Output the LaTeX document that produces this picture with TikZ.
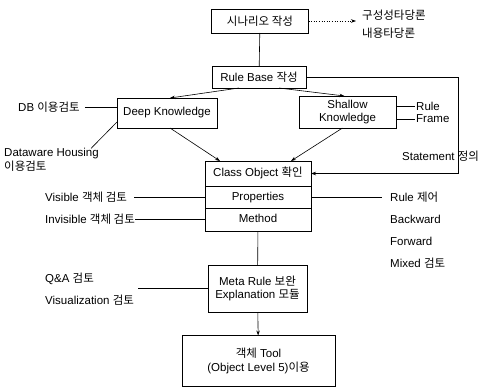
\documentclass[tikz,border=0pt]{standalone}
\usepackage{fontspec}
\setmainfont{Liberation Sans}
\newfontfamily\ko{Noto Sans CJK KR}
\usetikzlibrary{positioning,arrows.meta}

\tikzset{
  box/.style={draw, line width=0.7pt, align=center, inner sep=2pt, outer sep=0pt},
  row/.style={box, minimum width=106pt, text height=8.5pt, text depth=2.5pt},
  lbl/.style={anchor=west, inner sep=0pt},
  link/.style={line width=0.6pt},
  arr/.style={line width=0.6pt, -{Stealth[length=5pt,width=3.5pt]}},
}

\begin{document}
\begin{tikzpicture}[x=1pt, y=-1pt, font=\fontsize{11.5}{13.5}\selectfont]
\useasboundingbox (0,0) rectangle (483,389);
% main chain
\node[box, minimum width=97pt, minimum height=24pt] (scen) at (260,21) {{\ko 시나리오 작성}};
\node[box, minimum width=94pt, minimum height=22pt] (rule) at (259,77) {Rule Base {\ko 작성}};
\node[box, minimum width=100pt, minimum height=30pt] (deep) at (167,113) {Deep Knowledge};
\node[box, minimum width=97pt, minimum height=32pt] (shallow) at (347.5,112) {Shallow\\Knowledge};
\node[row, minimum height=25pt] (cls) at (258,173.5) {Class Object {\ko 확인}};
\node[row, minimum height=22pt, below=0pt of cls] (prop) {Properties};
\node[row, minimum height=23pt, below=0pt of prop] (meth) {Method};
\node[box, minimum width=99pt, minimum height=47pt] (meta) at (257.5,288.5) {Meta Rule {\ko 보완}\\Explanation {\ko 모듈}};
\node[box, minimum width=153pt, minimum height=51pt] (tool) at (258.5,361) {{\ko 객체} Tool\\(Object Level 5){\ko 이용}};

% side notes
\node[lbl] (valid1) at (362,15) {\ko 구성성타당론};
\node[lbl] (valid2) at (362,33) {\ko 내용타당론};
\coordinate (dotend) at (356,21);
\node[lbl] (dbT) at (18,107) {DB {\ko 이용검토}};
\node[lbl, align=left] (dwT) at (4,160) {Dataware Housing\\{\ko 이용검토}};
\node[lbl] (ruleT) at (416,106) {Rule};
\node[lbl] (frameT) at (416,119) {Frame};
\node[lbl] (stmtT) at (402,156) {Statement {\ko 정의}};
\coordinate (fb) at (458,0);
\node[lbl] (visT) at (45,197) {Visible {\ko 객체 검토}};
\node[lbl] (invT) at (45,219) {Invisible {\ko 객체 검토}};
\node[lbl] (ctrlT) at (390,197) {Rule {\ko 제어}};
\node[lbl] (backT) at (390,219) {Backward};
\node[lbl] (fwdT) at (390,241) {Forward};
\node[lbl] (mixT) at (390,263) {Mixed {\ko 검토}};
\node[lbl] (qaT) at (45,279) {Q\&A {\ko 검토}};
\node[lbl] (visuT) at (45,300) {Visualization {\ko 검토}};

% connectors
\draw[link] (scen) -- (rule);
\draw[arr, dotted] (scen.east) -- (dotend);
\draw[arr] ([xshift=-20pt]rule.south) -- ([xshift=3pt]deep.north);
\draw[arr] ([xshift=20pt]rule.south) -- ([xshift=-3pt]shallow.north);
\draw[arr] ([xshift=3pt]deep.south) -- ([xshift=-38pt]cls.north);
\draw[arr] ([xshift=-5pt]shallow.south) -- ([xshift=33pt]cls.north);
\draw[arr] (rule.east) -- (rule.east -| fb) -- (cls.east -| fb) -- (cls.east);
\draw[link] (shallow.east |- ruleT) -- ([xshift=-1pt]ruleT.west);
\draw[link] (shallow.east |- frameT) -- ([xshift=-1pt]frameT.west);
\draw[link] ([xshift=5pt]dbT.east) -- (deep.west |- dbT);
\draw[link] ([xshift=-8pt]dwT.north east) -- ([yshift=6pt]deep.south west);
\draw[link] ([xshift=7pt]visT.east) -- (prop.west |- visT);
\draw[link] (invT.east) -- (meth.west |- invT);
\draw[link] (prop.east) -- ([xshift=-8pt]ctrlT.west);
\draw[link] ([xshift=4pt]visuT.east |- meta.west) -- (meta.west);
\draw[link] (meth) -- (meta);
\draw[arr] (meta) -- (tool);
\end{tikzpicture}
\end{document}
